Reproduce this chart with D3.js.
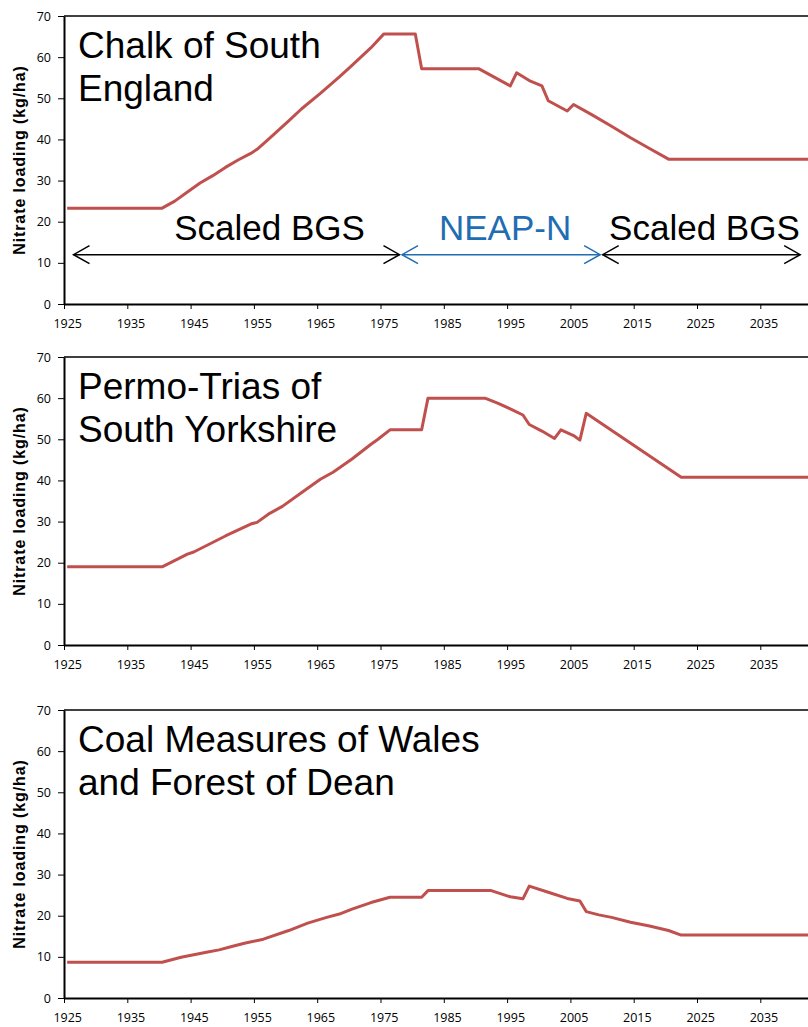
<!DOCTYPE html>
<html>
<head>
<meta charset="utf-8">
<script src="https://cdn.jsdelivr.net/npm/d3@7"></script>
<style>
  body { margin: 0; background: #fff; }
  svg { display: block; }
</style>
</head>
<body>
<svg id="nitrate-chart" width="808" height="1027"></svg>
<script>
// breakpoints of each input curve: [year, kg/ha]
let chalk = [
  [1925, 23.3], [1940, 23.3], [1942, 25.0], [1944, 27.2], [1946, 29.4], [1948, 31.2],
  [1950, 33.2], [1952, 35.0], [1954, 36.6], [1955, 37.6], [1957, 40.3], [1960, 44.5],
  [1962, 47.4], [1965, 51.2], [1968, 55.2], [1970, 58.0], [1973, 62.3], [1975, 65.6],
  [1980, 65.6], [1981, 57.2], [1990, 57.2], [1995, 53.0], [1996, 56.2], [1998, 54.3],
  [2000, 53.0], [2001, 49.4], [2004, 46.9], [2005, 48.5], [2008, 45.9], [2011, 43.2],
  [2014, 40.4], [2017, 37.8], [2020, 35.2], [2050, 35.2]
]
let permoTrias = [
  [1925, 19.0], [1940, 19.0], [1944, 22.1], [1945, 22.6], [1950, 26.5], [1954, 29.4],
  [1955, 29.8], [1957, 32.0], [1959, 33.7], [1962, 37.0], [1965, 40.3], [1967, 42.0],
  [1970, 45.2], [1973, 48.8], [1974, 49.9], [1976, 52.3], [1981, 52.3], [1982, 60.0],
  [1991, 60.0], [1993, 58.8], [1995, 57.4], [1997, 55.9], [1998, 53.6], [2000, 52.0],
  [2002, 50.2], [2003, 52.3], [2005, 50.9], [2006, 49.8], [2007, 56.3], [2022, 40.8],
  [2050, 40.8]
]
let coal = [
  [1925, 8.7], [1940, 8.7], [1943, 9.9], [1945, 10.5], [1947, 11.1], [1949, 11.7],
  [1951, 12.5], [1953, 13.3], [1956, 14.3], [1960, 16.4], [1963, 18.2], [1966, 19.6],
  [1968, 20.4], [1970, 21.6], [1973, 23.2], [1976, 24.5], [1981, 24.5], [1982, 26.1],
  [1992, 26.1], [1995, 24.6], [1997, 24.1], [1998, 27.2], [2001, 25.7], [2004, 24.2],
  [2006, 23.6], [2007, 21.0], [2009, 20.2], [2011, 19.6], [2014, 18.4], [2017, 17.5],
  [2020, 16.4], [2022, 15.3], [2050, 15.3]
]

let titles = [
  ["Chalk of South", "England"],
  ["Permo-Trias of", "South Yorkshire"],
  ["Coal Measures of Wales", "and Forest of Dean"]
]
let yLabel = "Nitrate loading (kg/ha)"
let xTicks = [1925, 1935, 1945, 1955, 1965, 1975, 1985, 1995, 2005, 2015, 2025, 2035]
let yTicks = [0, 10, 20, 30, 40, 50, 60, 70]

// source periods shown under the chalk curve
let periodLabels = ["Scaled BGS", "NEAP-N", "Scaled BGS"]
let periodFrom = [1926.5, 1978.4, 2010.1]
let periodTo = [1978.0, 2009.7, 2041.3]
let periodLevel = 12

let series = [chalk, permoTrias, coal]

let svg = d3.select("#nitrate-chart")
let width = 808
let panelTops = [16, 357, 710]
let plotHeight = 288
let left = 64
let yearPx = 6.33
let lineColor = "#C0504D"
let periodColors = ["#000000", "#1f6db3", "#000000"]
let periodDx = [33, 4, 3]

let x = d3.scaleLinear()
  .domain([1925, 2051])
  .range([left, left + 126 * yearPx])
let half = x(1925.5) - x(1925)

series.forEach(function (data, i) {
  let top = panelTops[i]
  let y = d3.scaleLinear()
    .domain([0, 70])
    .range([top + plotHeight, top])

  let g = svg.append("g").attr("class", "panel")

  // top border of plot area
  g.append("line")
    .attr("x1", left).attr("x2", width)
    .attr("y1", top).attr("y2", top)
    .style("stroke", "black")
    .style("stroke-width", 1.5)

  let yAxis = g.append("g")
    .attr("class", "y axis")
    .attr("transform", `translate(${left},0)`)
    .call(d3.axisLeft(y).tickValues(yTicks).tickSize(6).tickSizeOuter(0).tickPadding(7))
  yAxis.select(".domain").style("stroke-width", 2)
  yAxis.selectAll("text")
    .style("font-family", "'Open Sans', 'Liberation Sans', sans-serif")
    .style("font-size", "12.5px")
    .style("fill", "#000")

  let xAxis = g.append("g")
    .attr("class", "x axis")
    .attr("transform", `translate(0,${top + plotHeight})`)
    .call(d3.axisBottom(x).tickValues(xTicks).tickFormat(d3.format("d"))
      .tickSize(5).tickSizeOuter(0).tickPadding(10))
  xAxis.select(".domain").style("stroke-width", 1.8)
  xAxis.selectAll("text")
    .attr("dx", half)
    .style("font-family", "'Open Sans', 'Liberation Sans', sans-serif")
    .style("font-size", "12.5px")
    .style("fill", "#000")

  g.append("text")
    .attr("transform", `translate(25,${top + plotHeight / 2}) rotate(-90)`)
    .attr("text-anchor", "middle")
    .style("font-family", "'Liberation Sans', Arial, sans-serif")
    .style("font-weight", "bold")
    .style("font-size", "16px")
    .style("letter-spacing", "0.9px")
    .text(yLabel)

  let line = d3.line()
    .x(d => x(d[0] + 0.5))
    .y(d => y(d[1]))

  g.append("path")
    .datum(data)
    .attr("d", line)
    .style("fill", "none")
    .style("stroke", lineColor)
    .style("stroke-width", 3)
    .style("stroke-linejoin", "round")

  let title = g.append("text")
    .attr("x", 78)
    .attr("y", top + 42)
    .style("font-family", "'Liberation Sans', Arial, sans-serif")
    .style("font-size", "37px")
    .style("fill", "#000")
  titles[i].forEach(function (t, k) {
    title.append("tspan")
      .attr("x", 78)
      .attr("dy", k == 0 ? 0 : 43)
      .text(t)
  })

  if (i == 0) {
    let ay = y(periodLevel)
    periodLabels.forEach(function (lab, k) {
      let x1 = x(periodFrom[k])
      let x2 = x(periodTo[k])
      let col = periodColors[k]
      let arrow = g.append("g")
        .style("stroke", col)
        .style("stroke-width", 1.5)
        .style("fill", "none")
      arrow.append("line")
        .attr("x1", x1).attr("x2", x2)
        .attr("y1", ay).attr("y2", ay)
      arrow.append("path")
        .attr("d", `M${x1 + 16},${ay - 9}L${x1},${ay}L${x1 + 16},${ay + 9}`)
      arrow.append("path")
        .attr("d", `M${x2 - 16},${ay - 9}L${x2},${ay}L${x2 - 16},${ay + 9}`)
      g.append("text")
        .attr("x", (x1 + x2) / 2 + periodDx[k])
        .attr("y", ay - 15)
        .attr("text-anchor", "middle")
        .style("font-family", "'Liberation Sans', Arial, sans-serif")
        .style("font-size", "35px")
        .style("fill", col)
        .text(lab)
    })
  }
})
</script>
</body>
</html>
